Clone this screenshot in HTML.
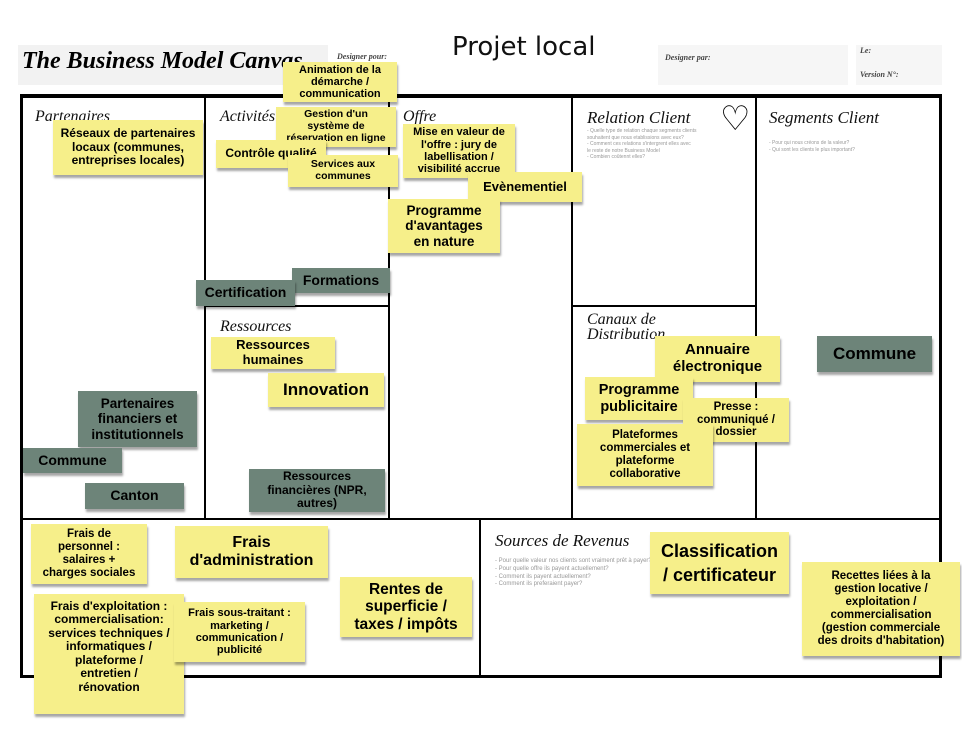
<!DOCTYPE html>
<html><head><meta charset="utf-8"><style>
body{margin:0;width:962px;height:729px;background:#fff;position:relative;overflow:hidden;font-family:"Liberation Sans",sans-serif}
.a{position:absolute}
.l{position:absolute;background:#000}
.h{position:absolute;font-family:"Liberation Serif",serif;font-style:italic;font-size:16px;color:#111}
.y,.g{position:absolute;display:flex;align-items:center;justify-content:center;text-align:center;font-weight:bold;color:#000;line-height:1.12;box-sizing:border-box;padding:0 2px;white-space:nowrap;box-shadow:1px 3px 2px rgba(0,0,0,.35)}
.y{background:#f6ef8a}
.g{background:#6d8479;color:#000}
.q{position:absolute;font-size:5px;color:#999;font-family:"Liberation Sans",sans-serif;line-height:1.3}
</style></head><body>
<div class="a" style="left:18px;top:45px;width:310px;height:40px;background:#f2f2f2"></div>
<div class="a" style="left:22px;top:48px;font-family:'Liberation Serif',serif;font-weight:bold;font-style:italic;font-size:24px">The Business Model Canvas</div>
<div class="a" style="left:337px;top:52px;font-family:'Liberation Serif',serif;font-weight:bold;font-style:italic;font-size:8px;color:#444">Designer pour:</div>
<div class="a" style="left:452px;top:32px;font-family:'DejaVu Sans',sans-serif;font-size:26px;color:#111">Projet local</div>
<div class="a" style="left:658px;top:45px;width:190px;height:40px;background:#f6f6f6"></div>
<div class="a" style="left:665px;top:53px;font-family:'Liberation Serif',serif;font-weight:bold;font-style:italic;font-size:8px;color:#444">Designer par:</div>
<div class="a" style="left:856px;top:45px;width:86px;height:40px;background:#f6f6f6"></div>
<div class="a" style="left:860px;top:46px;font-family:'Liberation Serif',serif;font-weight:bold;font-style:italic;font-size:8px;color:#444">Le:</div>
<div class="a" style="left:860px;top:70px;font-family:'Liberation Serif',serif;font-weight:bold;font-style:italic;font-size:8px;color:#444">Version N°:</div>
<div class="l" style="left:20px;top:94px;width:922px;height:4px"></div>
<div class="l" style="left:20px;top:94px;width:3px;height:584px"></div>
<div class="l" style="left:939px;top:94px;width:3px;height:584px"></div>
<div class="l" style="left:20px;top:675px;width:922px;height:3px"></div>
<div class="l" style="left:20px;top:518px;width:922px;height:2px"></div>
<div class="l" style="left:204px;top:96px;width:2px;height:423px"></div>
<div class="l" style="left:388px;top:96px;width:2px;height:423px"></div>
<div class="l" style="left:571px;top:96px;width:2px;height:423px"></div>
<div class="l" style="left:755px;top:96px;width:2px;height:423px"></div>
<div class="l" style="left:205px;top:305px;width:184px;height:2px"></div>
<div class="l" style="left:572px;top:305px;width:184px;height:2px"></div>
<div class="l" style="left:479px;top:519px;width:2px;height:158px"></div>
<div class="h" style="left:35px;top:108px">Partenaires</div>
<div class="h" style="left:220px;top:108px">Activités</div>
<div class="h" style="left:403px;top:108px">Offre</div>
<div class="h" style="left:587px;top:108px;font-size:17px">Relation Client</div>
<div class="h" style="left:769px;top:108px;font-size:17px">Segments Client</div>
<div class="h" style="left:220px;top:318px">Ressources</div>
<div class="h" style="left:587px;top:312px;line-height:0.95">Canaux de<br>Distribution</div>
<div class="h" style="left:495px;top:531px;font-size:17px">Sources de Revenus</div>
<div class="q" style="left:587px;top:128px">- Quelle type de relation chaque segments clients<br>souhaitent que nous etablissions avec eux?<br>- Comment ces relations s'intergrent elles avec<br>le reste de notre Business Model<br>- Combien coûtennt elles?</div>
<div class="q" style="left:769px;top:140px">- Pour qui nous créons de la valeur?<br>- Qui sont les clients le plus important?</div>
<div class="q" style="left:495px;top:558px;font-size:6px">- Pour quelle valeur nos clients sont vraiment prêt à payer?<br>- Pour quelle offre ils payent actuellement?<br>- Comment ils payent actuellement?<br>- Comment ils preferaient payer?</div>
<div class="a" style="left:720px;top:102px;font-size:34px;line-height:1">♡</div>
<div class="y" style="left:283px;top:62px;width:114px;height:40px;font-size:11px">Animation de la<br>démarche /<br>communication</div>
<div class="y" style="left:276px;top:107px;width:120px;height:40px;font-size:10.5px">Gestion d'un<br>système de<br>réservation en ligne</div>
<div class="y" style="left:53px;top:120px;width:150px;height:55px;font-size:12px">Réseaux de partenaires<br>locaux (communes,<br>entreprises locales)</div>
<div class="y" style="left:216px;top:140px;width:110px;height:28px;font-size:12px">Contrôle qualité</div>
<div class="y" style="left:288px;top:155px;width:110px;height:32px;font-size:10.5px">Services aux<br>communes</div>
<div class="y" style="left:403px;top:124px;width:112px;height:54px;font-size:11px">Mise en valeur de<br>l'offre : jury de<br>labellisation /<br>visibilité accrue</div>
<div class="y" style="left:468px;top:172px;width:114px;height:30px;font-size:13px">Evènementiel</div>
<div class="y" style="left:388px;top:199px;width:112px;height:54px;font-size:13.5px">Programme<br>d'avantages<br>en nature</div>
<div class="g" style="left:292px;top:268px;width:98px;height:25px;font-size:14px">Formations</div>
<div class="g" style="left:196px;top:280px;width:99px;height:26px;font-size:14px">Certification</div>
<div class="y" style="left:211px;top:337px;width:124px;height:32px;font-size:13px">Ressources<br>humaines</div>
<div class="y" style="left:268px;top:373px;width:116px;height:34px;font-size:17px">Innovation</div>
<div class="g" style="left:78px;top:391px;width:119px;height:56px;font-size:13.5px">Partenaires<br>financiers et<br>institutionnels</div>
<div class="g" style="left:23px;top:448px;width:99px;height:25px;font-size:14px">Commune</div>
<div class="g" style="left:85px;top:483px;width:99px;height:26px;font-size:14px">Canton</div>
<div class="g" style="left:249px;top:469px;width:136px;height:43px;font-size:12px">Ressources<br>financières (NPR,<br>autres)</div>
<div class="y" style="left:655px;top:336px;width:125px;height:46px;font-size:15px">Annuaire<br>électronique</div>
<div class="g" style="left:817px;top:336px;width:115px;height:36px;font-size:17px">Commune</div>
<div class="y" style="left:585px;top:377px;width:108px;height:43px;font-size:14.5px">Programme<br>publicitaire</div>
<div class="y" style="left:683px;top:398px;width:106px;height:44px;font-size:11.5px">Presse :<br>communiqué /<br>dossier</div>
<div class="y" style="left:577px;top:424px;width:136px;height:62px;font-size:11.5px">Plateformes<br>commerciales et<br>plateforme<br>collaborative</div>
<div class="y" style="left:31px;top:524px;width:116px;height:60px;font-size:11.5px">Frais de<br>personnel :<br>salaires +<br>charges sociales</div>
<div class="y" style="left:175px;top:526px;width:153px;height:52px;font-size:16px">Frais<br>d'administration</div>
<div class="y" style="left:34px;top:594px;width:150px;height:120px;font-size:12px;align-items:flex-start;padding-top:6px">Frais d'exploitation :<br>commercialisation:<br>services techniques /<br>informatiques /<br>plateforme /<br>entretien /<br>rénovation</div>
<div class="y" style="left:174px;top:602px;width:131px;height:60px;font-size:11px">Frais sous-traitant :<br>marketing /<br>communication /<br>publicité</div>
<div class="y" style="left:340px;top:577px;width:132px;height:60px;font-size:15.5px">Rentes de<br>superficie /<br>taxes / impôts</div>
<div class="y" style="left:650px;top:532px;width:139px;height:62px;font-size:18px;line-height:1.35">Classification<br>/ certificateur</div>
<div class="y" style="left:802px;top:562px;width:158px;height:94px;font-size:11.5px">Recettes liées à la<br>gestion locative /<br>exploitation /<br>commercialisation<br>(gestion commerciale<br>des droits d'habitation)</div>
</body></html>
